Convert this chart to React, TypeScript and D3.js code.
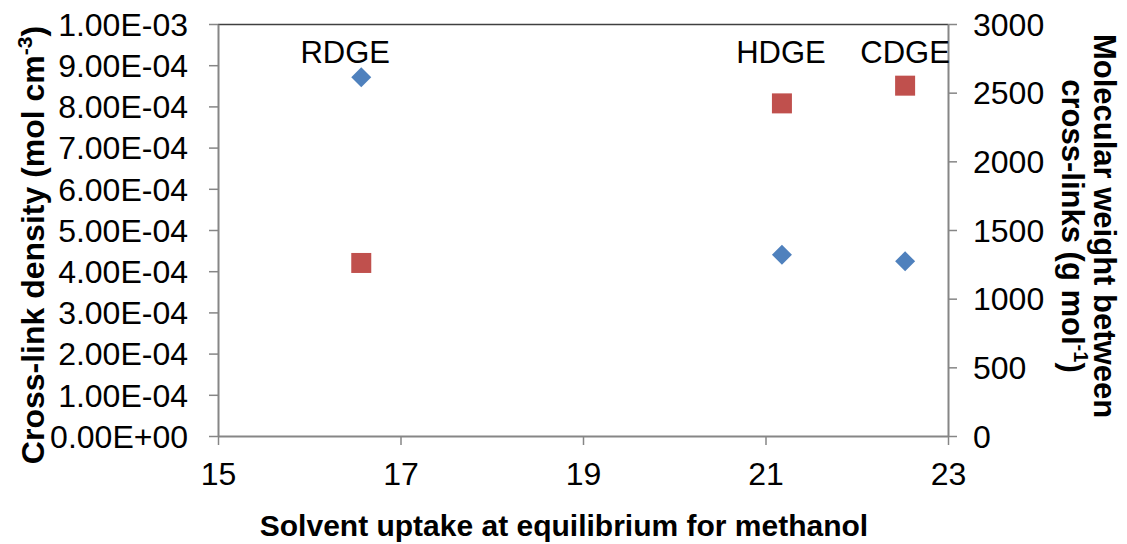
import { useEffect, useRef } from 'react'
import * as d3 from 'd3'

const samples = ['RDGE', 'HDGE', 'CDGE']
const uptake = [16.57, 21.18, 22.53]
const crossLinkDensity = [8.71e-4, 4.40e-4, 4.24e-4]
const molWeight = [1260, 2422, 2551]
const leftTicks = d3.range(0, 11).map(i => i * 1e-4)
const rightTicks = [0, 500, 1000, 1500, 2000, 2500, 3000]
const xTicks = [15, 17, 19, 21, 23]

// manual label nudges (px), as placed in the source chart
const labelShift = [-16, -1, 0]

export default function App() {
    const svgRef = useRef<SVGSVGElement>(null)
    const width = 1127
    const height = 544

    useEffect(() => {
        if (!svgRef.current) return
        const svg = d3.select(svgRef.current)
        svg.selectAll('*').remove()

        const left = 218, right = 948, top = 24, bottom = 436
        const font = 'Arial, "Liberation Sans", sans-serif'
        const axisColor = '#868686'

        const x = d3.scaleLinear().domain([15, 23]).range([left, right])
        const yL = d3.scaleLinear().domain([0, 1e-3]).range([bottom, top])
        const yR = d3.scaleLinear().domain([0, 3000]).range([bottom, top])

        // top border of plot area
        svg.append('line')
            .attr('x1', left).attr('x2', right)
            .attr('y1', top + 0.5).attr('y2', top + 0.5)
            .attr('stroke', '#404040').attr('stroke-width', 1.5)

        const sci = (v: number) => v.toExponential(2).replace('e', 'E')
            .replace(/E-(\d)$/, 'E-0$1').replace(/E\+(\d)$/, 'E+0$1')

        // left axis
        const gL = svg.append('g').attr('transform', `translate(${left},0)`)
            .call(d3.axisLeft(yL).tickValues(leftTicks).tickSize(9).tickSizeOuter(0)
                .tickFormat(d => sci(+d)))
        gL.select('.domain').attr('stroke', axisColor).attr('stroke-width', 2)
        gL.selectAll('.tick line').attr('stroke', axisColor).attr('stroke-width', 1.5)
        gL.selectAll('.tick text').attr('font-family', font).attr('font-size', 32).attr('fill', '#000')
            .attr('x', -30).attr('dy', '0.35em')

        // right axis
        const gR = svg.append('g').attr('transform', `translate(${right},0)`)
            .call(d3.axisRight(yR).tickValues(rightTicks).tickSize(9).tickSizeOuter(0)
                .tickFormat(d3.format('d')))
        gR.select('.domain').attr('stroke', axisColor).attr('stroke-width', 2)
        gR.selectAll('.tick line').attr('stroke', axisColor).attr('stroke-width', 1.5)
        gR.selectAll('.tick text').attr('font-family', font).attr('font-size', 32).attr('fill', '#000')
            .attr('x', 25).attr('dy', '0.35em')

        // bottom axis
        const gB = svg.append('g').attr('transform', `translate(0,${bottom})`)
            .call(d3.axisBottom(x).tickValues(xTicks).tickSize(9).tickSizeOuter(0).tickFormat(d3.format('d')))
        gB.select('.domain').attr('stroke', axisColor).attr('stroke-width', 2)
        gB.selectAll('.tick line').attr('stroke', axisColor).attr('stroke-width', 1.5)
        gB.selectAll('.tick text').attr('font-family', font).attr('font-size', 32).attr('fill', '#000')
            .attr('y', 49).attr('dy', 0)

        // series: cross-link density (diamonds)
        const diamond = d3.symbol().type(d3.symbolSquare).size(200)
        svg.append('g').selectAll('path.dens')
            .data(samples)
            .enter()
            .append('path')
            .attr('class', 'dens')
            .attr('d', diamond)
            .attr('transform', (d, i) => `translate(${x(uptake[i])},${yL(crossLinkDensity[i])}) rotate(45)`)
            .attr('fill', '#4F81BD')

        // series: molecular weight (squares)
        svg.append('g').selectAll('rect.mw')
            .data(samples)
            .enter()
            .append('rect')
            .attr('class', 'mw')
            .attr('x', (d, i) => x(uptake[i]) - 10)
            .attr('y', (d, i) => yR(molWeight[i]) - 10)
            .attr('width', 20).attr('height', 20)
            .attr('fill', '#C0504D')

        // sample labels
        svg.append('g').selectAll('text.lbl')
            .data(samples)
            .enter()
            .append('text')
            .attr('class', 'lbl')
            .attr('x', (d, i) => x(uptake[i]) + labelShift[i])
            .attr('y', 63)
            .attr('text-anchor', 'middle')
            .attr('font-family', font).attr('font-size', 31)
            .text(d => d)

        // x title
        svg.append('text')
            .attr('x', 564).attr('y', 536)
            .attr('text-anchor', 'middle')
            .attr('font-family', font).attr('font-size', 30).attr('font-weight', 'bold')
            .text('Solvent uptake at equilibrium for methanol')

        // left title
        const lt = svg.append('text')
            .attr('transform', `translate(44,245) rotate(-90)`)
            .attr('text-anchor', 'middle')
            .attr('font-family', font).attr('font-size', 32).attr('font-weight', 'bold')
        lt.append('tspan').text('Cross-link density (mol cm')
        lt.append('tspan').attr('dy', -12).attr('font-size', 21).text('-3')
        lt.append('tspan').attr('dy', 12).text(')')

        // right title
        const rt = svg.append('text')
            .attr('transform', `translate(1094,226) rotate(90)`)
            .attr('text-anchor', 'middle')
            .attr('font-family', font).attr('font-size', 31).attr('font-weight', 'bold')
        rt.append('tspan').attr('x', 0).attr('dy', 0).text('Molecular weight between')
        const rt2 = rt.append('tspan').attr('x', 0).attr('dy', 32)
        rt2.append('tspan').text('cross-links (g mol')
        rt2.append('tspan').attr('dy', -12).attr('font-size', 20).text('-1')
        rt2.append('tspan').attr('dy', 12).text(')')
    }, [])

    return (
        <div style={{ width, height }}>
            <svg ref={svgRef} width={width} height={height}
                style={{ position: 'absolute', left: 0, top: 0, display: 'block', background: '#fff' }}></svg>
        </div>
    )
}
